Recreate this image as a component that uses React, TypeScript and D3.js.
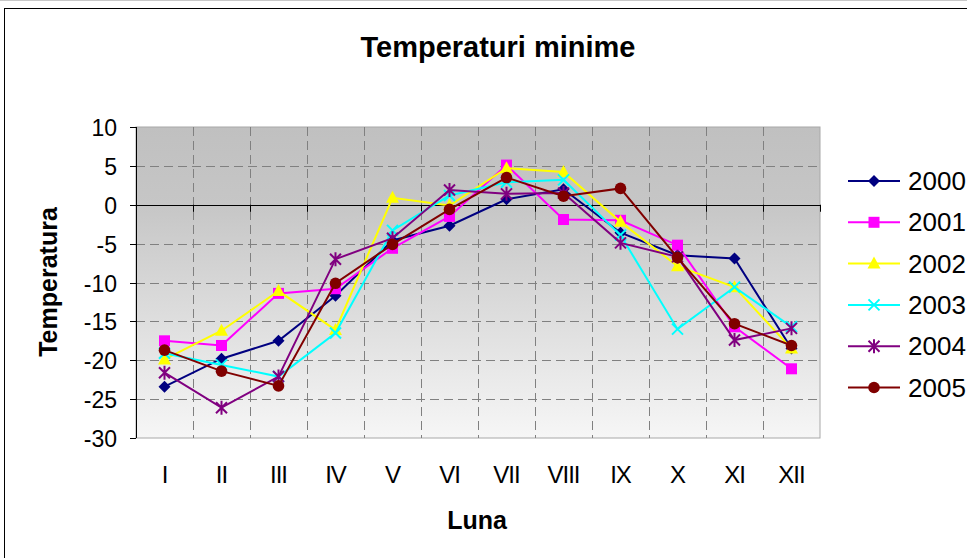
import React from "react";
import { scaleBand, scaleLinear, line as d3_line, range } from "d3";

const months = ["I", "II", "III", "IV", "V", "VI", "VII", "VIII", "IX", "X", "XI", "XII"];
const yTicks = [10, 5, 0, -5, -10, -15, -20, -25, -30];

const years = ["2000", "2001", "2002", "2003", "2004", "2005"];
const colors = ["#000080", "#ff00ff", "#ffff00", "#00ffff", "#800080", "#800000"];
const markers = ["diamond", "square", "triangle", "x", "star", "circle"];

const t2000 = [-23.4, -19.8, -17.5, -11.7, -4.6, -2.7, 0.7, 2.0, -3.6, -6.5, -6.9, -18.5];
const t2001 = [-17.5, -18.1, -11.4, -10.8, -5.6, -1.5, 5.1, -1.9, -2.0, -5.2, -15.7, -21.1];
const t2002 = [-19.9, -16.2, -11.1, -16.1, 0.9, -0.1, 4.7, 4.2, -2.2, -7.9, -10.6, -18.5];
const t2003 = [-19.1, -20.6, -22.1, -16.5, -3.3, 1.2, 2.9, 3.2, -3.9, -16.0, -10.6, -15.7];
const t2004 = [-21.6, -26.1, -22.1, -7.0, -4.3, 1.9, 1.4, 1.5, -4.9, -6.7, -17.4, -15.9];
const t2005 = [-18.7, -21.4, -23.3, -10.1, -5.1, -0.6, 3.5, 1.1, 2.1, -6.8, -15.3, -18.1];

const series = [t2000, t2001, t2002, t2003, t2004, t2005];

const font = "'Liberation Sans', Arial, sans-serif";

const Marker = ({ kind, x, y, color }: { kind: string; x: number; y: number; color: string }) => {
    const r = 6;
    switch (kind) {
        case "diamond":
            return <path d={`M${x},${y - r}L${x + r},${y}L${x},${y + r}L${x - r},${y}Z`} fill={color} />;
        case "square":
            return <rect x={x - 5.5} y={y - 5.5} width={11} height={11} fill={color} />;
        case "triangle":
            return <path d={`M${x},${y - 7}L${x + 6.5},${y + 5}L${x - 6.5},${y + 5}Z`} fill={color} />;
        case "x":
            return (
                <path
                    d={`M${x - 5.5},${y - 5.5}L${x + 5.5},${y + 5.5}M${x + 5.5},${y - 5.5}L${x - 5.5},${y + 5.5}`}
                    stroke={color}
                    strokeWidth={2}
                />
            );
        case "star":
            return (
                <path
                    d={`M${x - 5.5},${y - 5.5}L${x + 5.5},${y + 5.5}M${x + 5.5},${y - 5.5}L${x - 5.5},${y + 5.5}M${x},${y - 7}L${x},${y + 7}`}
                    stroke={color}
                    strokeWidth={2}
                />
            );
        default:
            return <circle cx={x} cy={y} r={5.8} fill={color} />;
    }
};

export default function App() {
    const width = 967;
    const height = 558;
    const left = 136;
    const right = 820;
    const top = 127;
    const bottom = 438;

    const x = scaleBand<string>().domain(months).range([left, right]);
    const y = scaleLinear().domain([-30, 10]).range([bottom, top]);
    const cx = (m: string) => (x(m) ?? 0) + x.bandwidth() / 2;

    const line = d3_line<number>()
        .x((_, i) => cx(months[i]))
        .y((d) => y(d));

    const boundaries = range(1, months.length + 1).map((i) => left + i * x.bandwidth());

    return (
        <div style={{ position: "fixed", left: 0, top: 0 }}>
            <svg width={width} height={height} style={{ display: "block", fontFamily: font }}>
                <defs>
                    <linearGradient id="plot-bg" x1="0" y1="0" x2="0" y2="1">
                        <stop offset="0%" stopColor="#c0c0c0" />
                        <stop offset="25%" stopColor="#c6c6c6" />
                        <stop offset="100%" stopColor="#f6f6f6" />
                    </linearGradient>
                </defs>
                <rect width={width} height={height} fill="#fff" />
                <line x1={0} x2={width} y1={0.5} y2={0.5} stroke="#c8c8c8" />
                {/* chart frame */}
                <rect x={4.5} y={8.5} width={width} height={height} fill="none" stroke="#000" strokeWidth={1} />

                <text x={498} y={57} textAnchor="middle" fontSize={29} fontWeight="bold">
                    Temperaturi minime
                </text>

                {/* plot area */}
                <rect x={left} y={top} width={right - left} height={bottom - top} fill="url(#plot-bg)" stroke="#a8a8a8" />

                {/* grid */}
                {yTicks
                    .filter((t) => t !== 10 && t !== -30 && t !== 0)
                    .map((t) => (
                        <line
                            key={t}
                            x1={left}
                            x2={right}
                            y1={Math.round(y(t)) + 0.5}
                            y2={Math.round(y(t)) + 0.5}
                            stroke="#808080"
                            strokeDasharray="9,5"
                        />
                    ))}
                {boundaries.slice(0, -1).map((b, i) => (
                    <line
                        key={i}
                        x1={Math.round(b) + 0.5}
                        x2={Math.round(b) + 0.5}
                        y1={top}
                        y2={bottom}
                        stroke="#808080"
                        strokeDasharray="9,5"
                    />
                ))}

                {/* x axis at zero */}
                <line x1={left} x2={right} y1={Math.round(y(0)) + 0.5} y2={Math.round(y(0)) + 0.5} stroke="#000" />
                {boundaries.map((b, i) => (
                    <line
                        key={i}
                        x1={Math.round(b) + 0.5}
                        x2={Math.round(b) + 0.5}
                        y1={y(0)}
                        y2={y(0) + 7}
                        stroke="#000"
                    />
                ))}

                {/* y axis */}
                <line x1={left + 0.5} x2={left + 0.5} y1={top} y2={bottom} stroke="#000" />
                {yTicks.map((t) => (
                    <g key={t} transform={`translate(0,${Math.round(y(t)) + 0.5})`}>
                        <line x1={left - 6} x2={left} stroke="#000" />
                        <text x={117} y={8.5} textAnchor="end" fontSize={23}>
                            {t}
                        </text>
                    </g>
                ))}

                {/* x labels */}
                {months.map((m) => (
                    <text key={m} x={cx(m)} y={483} textAnchor="middle" fontSize={24} letterSpacing={-1}>
                        {m}
                    </text>
                ))}

                <text x={477} y={529} textAnchor="middle" fontSize={25} fontWeight="bold">
                    Luna
                </text>
                <text
                    transform="translate(57,282) rotate(-90)"
                    textAnchor="middle"
                    fontSize={25}
                    fontWeight="bold"
                >
                    Temperatura
                </text>

                {/* series */}
                {series.map((s, si) => (
                    <g key={years[si]}>
                        <path d={line(s) ?? ""} fill="none" stroke={colors[si]} strokeWidth={2} />
                        {s.map((v, i) => (
                            <Marker key={i} kind={markers[si]} x={cx(months[i])} y={y(v)} color={colors[si]} />
                        ))}
                    </g>
                ))}

                {/* legend */}
                {years.map((yr, i) => {
                    const ly = 181 + i * 41.3;
                    return (
                        <g key={yr}>
                            <line x1={848} x2={900} y1={ly} y2={ly} stroke={colors[i]} strokeWidth={2} />
                            <Marker kind={markers[i]} x={874} y={ly} color={colors[i]} />
                            <text x={908} y={ly + 9} fontSize={26}>
                                {yr}
                            </text>
                        </g>
                    );
                })}
            </svg>
        </div>
    );
}
